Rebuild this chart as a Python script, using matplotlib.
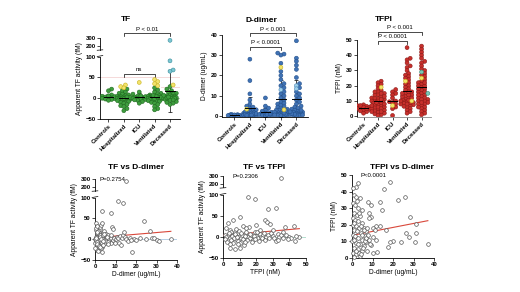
import numpy as np
import matplotlib
matplotlib.use("Agg")
import matplotlib.pyplot as plt
from matplotlib.transforms import blended_transform_factory

plt.rcParams["font.family"] = ["Liberation Sans", "DejaVu Sans"]
plt.rcParams["font.weight"] = "bold"
plt.rcParams["axes.linewidth"] = 0.6

GROUPS = ["Controls", "Hospitalized", "ICU", "Ventilated", "Deceased"]

# ---- top row: values per group (main points + highlighted subgroups) ----
TF_MAIN = {
    "Controls": [22, 18, 8, 5, 3, 2, 1, 0, 0, -1, -2, -3, -5, 4, 6],
    "Hospitalized": [22, 18, 15, 12, 10, 8, 6, 5, 4, 3, 2, 1, 0, 0, -1, -2, -3, -4, -5,
                     -6, -8, -10, -12, -15, -18, -20, -25, -30, 0, 1, -1, 2, 3],
    "ICU": [15, 10, 5, 3, 2, 1, 0, 0, -1, -2, -3, -5, -8, -12, 4, 6, -4],
    "Ventilated": [25, 20, 15, 12, 10, 8, 6, 5, 4, 3, 2, 1, 0, 0, 0, -1, -2, -3, -4, -5,
                   -6, -8, -10, -12, -15, -20, -25, -28, 1, 2, -1, 3, 5, 7],
    "Deceased": [28, 22, 18, 15, 12, 10, 8, 6, 5, 4, 3, 2, 1, 0, 0, -1, -2, -3, -5, -8,
                 -10, -12, -15, 2, 1, 3, 0, -4, 7],
}
TF_YELLOW = {"Controls": [], "Hospitalized": [32, 28, 25], "ICU": [38],
             "Ventilated": [45, 40, 35, 30], "Deceased": [32]}
TF_TEAL = {"Controls": [], "Hospitalized": [], "ICU": [], "Ventilated": [],
           "Deceased": [270, 90, 68, 65]}

DD_MAIN = {
    "Controls": [0.2, 0.3, 0.5, 0.4, 0.6, 0.8, 1.0, 0.3, 0.5, 0.2, 0.7, 0.4],
    "Hospitalized": [28, 17.5, 11, 8, 6, 5, 4, 3, 2.5, 2, 1.8, 1.5, 1.2, 1, 0.8, 0.6, 0.5,
                     0.4, 0.3, 2.2, 1.6, 0.9, 0.7, 3.2, 4.5, 1.1, 1.3, 0.5, 0.6],
    "ICU": [9, 5, 4, 3, 2.5, 2, 1.8, 1.5, 1.2, 1, 0.8, 0.6, 0.5, 0.4, 0.3, 1.1, 0.9],
    "Ventilated": [31, 30.5, 30, 26, 22, 20, 18, 16, 15, 14, 12, 11, 10, 9, 8, 7, 6, 5, 4.5,
                   4, 3.5, 3, 2.5, 2, 1.8, 1.5, 1.2, 1, 0.8, 0.6, 0.5, 0.4, 0.3, 3, 2, 1,
                   0.7, 5.5, 6.5, 2.8, 1.6],
    "Deceased": [37, 28.5, 27, 25, 23, 19, 16, 14, 12, 11, 10, 9, 8, 7, 6, 5, 4.5, 4, 3.5,
                 3, 2.5, 2, 1.8, 1.5, 1.2, 1, 0.8, 0.6, 0.5, 0.4, 3, 2, 1, 1.3, 0.7, 2.2],
}
DD_YELLOW = {"Controls": [], "Hospitalized": [3.5], "ICU": [],
             "Ventilated": [24, 3.2], "Deceased": []}
DD_LIGHT = {"Controls": [], "Hospitalized": [], "ICU": [],
            "Ventilated": [13], "Deceased": [15, 13.5]}

TFPI_MAIN = {
    "Controls": [7.5, 7, 6.5, 6, 5.5, 5, 4.5, 4, 3.5, 3, 6, 5, 2, 7],
    "Hospitalized": [23, 22, 21, 20, 18, 17, 16, 15, 14, 13, 12, 11.5, 11, 10.5, 10, 9.5, 9,
                     8.5, 8, 7.5, 7, 6.5, 6, 5.5, 5, 4.5, 4, 3.5, 3, 2.5, 2, 1.5, 1, 0.5,
                     12, 10, 8, 6, 13, 14, 11, 9, 7, 5, 3, 15, 16],
    "ICU": [17.5, 16, 15, 14, 12, 10, 9.5, 9, 8, 6, 5, 0.5],
    "Ventilated": [45, 38, 37, 35, 33, 32, 30, 28, 27, 26, 25, 24, 22, 21, 20, 19, 18, 17,
                   16, 15, 14, 13, 12, 11, 10, 9.5, 9, 8.5, 8, 7.5, 7, 6, 5, 4, 3, 2, 11,
                   12, 10, 9, 13, 14, 15, 16, 10.5, 8, 6.5],
    "Deceased": [46, 44, 42, 40, 38, 36, 35, 33, 31, 30, 28, 27, 26, 24, 23, 22, 21, 20,
                 19, 18, 17, 16, 15, 14, 13, 12, 11, 10, 9, 8, 7, 6, 5, 4, 3, 2, 1, 12,
                 14, 10, 8, 6, 16, 18, 20, 22, 11, 9],
}
TFPI_YELLOW = {"Controls": [], "Hospitalized": [19], "ICU": [7],
               "Ventilated": [23, 10], "Deceased": [25]}
TFPI_TEAL = {"Controls": [], "Hospitalized": [], "ICU": [], "Ventilated": [],
             "Deceased": [29, 15]}

# ---- bottom row: paired values ----
SC1_DDIMER = [0.3, 0.5, 0.8, 1.0, 1.2, 0.4, 0.6, 0.2, 0.9, 1.5,
              1.1, 0.7, 1.4, 1.8, 2.0, 2.3, 2.6, 3.0, 3.5, 2.1,
              2.4, 1.7, 2.8, 3.2, 3.6, 4.0, 4.3, 4.6, 5.0, 5.4,
              3.8, 4.2, 1.3, 1.6, 0.5, 2.5, 3.3, 2.9, 4.8, 5.2,
              5.6, 6.0, 6.3, 6.7, 7.0, 7.3, 7.6, 8.0, 8.4, 8.8,
              9.0, 9.5, 10.0, 10.5, 11.0, 11.5, 12.0, 12.5, 13.0, 13.5,
              14.0, 14.5, 15.0, 16.0, 17.0, 18.0, 19.0, 20.0, 22.0, 24.0,
              25.0, 27.0, 28.0, 29.0, 30.0, 31.0, 37.0, 15.0, 11.0, 13.5,
              3.4, 8.0, 0.1, 0.3, 0.6, 0.8, 1.0, 1.2, 1.5, 1.9,
              2.2, 2.7, 3.1, 3.4, 3.7, 4.1, 4.5, 0.4, 1.1, 5.8,
              6.5, 7.8, 0.2, 1.4, 0.9, 2.4, 3.9, 6.2, 9.8, 17.5]
SC1_TF = [40, 22, 15, 10, 5, 0, -5, -10, -15, -20,
          -25, 2, 8, 12, 18, 25, 30, 35, 38, 0,
          -3, -8, -12, -18, -30, 5, 2, -2, 0, 8,
          15, 20, 3, -1, 6, 10, 4, -6, -10, 12,
          -4, 3, 10, -2, 0, 5, -8, 2, 30, 25,
          -3, 4, 0, 6, 2, -10, 8, -15, 3, 10,
          18, 5, 0, -5, 2, -30, 0, -2, 4, 45,
          1, 20, 2, 3, -2, -5, 0, 275, 92, 88,
          68, 62, 1, -2, 4, -6, -12, 14, 20, -16,
          6, -22, 1, -9, 9, -4, 13, 28, 33, 6,
          -6, 11, -20, -28, 18, -18, -14, -12, -8, -2]

SC2_TFPI = [35, 15, 19, 27, 32, 10, 6, 3, 25, 26.5,
            28.5, 42.5, 43.5, 45.5, 37.5, 4, 7, 10, 2, 4,
            5, 6, 7, 8, 9, 3, 4, 5, 6, 7,
            8, 9, 10, 11, 12, 13, 14, 15, 16, 17,
            18, 19, 20, 21, 22, 23, 24, 25, 26, 27,
            28, 29, 30, 31, 32, 33, 34, 35, 36, 38,
            40, 41, 44, 1, 2, 1.5, 2.5, 3.5, 4.5, 5.5,
            6.5, 7.5, 8.5, 9.5, 10.5, 11.5, 12.5, 13.5, 14.5, 15.5,
            16.5, 17.5, 18.5, 19.5, 20.5, 21.5, 22.5, 23.5, 24.5, 25.5,
            12, 14, 11, 9, 13, 30, 33, 36, 39, 20]
SC2_TF = [270, 95, 90, 65, 69, 46, 39, 33, 39, 36,
          30, 26, -10, 0, 24, -27, -30, -28, 20, 15,
          10, 5, 0, -5, -10, 3, -3, -8, -15, 12,
          18, 8, 2, -2, -6, 6, 12, 0, -4, 4,
          -8, 10, 2, -3, 7, -1, 3, -6, 0, 5,
          -2, 8, 1, -4, -10, 6, 0, 3, -2, 5,
          0, -3, 2, 5, 0, -5, -12, 8, -18, 2,
          -4, 6, -1, 14, -14, 4, -20, 1, -9, 22,
          7, -12, 1, -6, 12, -11, 16, -4, 9, -8,
          25, 20, 9, -17, -13, 15, -8, 10, -5, 28]

SC3_DDIMER = [18.4, 15.4, 22.4, 26, 13.8, 14.8, 28.1, 31, 31, 26.5,
              28, 30.6, 24, 37, 20, 18.4, 17.5, 10.2, 12.4, 11.9,
              10.2, 13.5, 16.7, 7.8, 9.1, 8.3, 9.4, 8.5, 11, 10.2,
              11.9, 7, 9.1, 3, 2, 1, 2, 4, 0.5, 1.5,
              3, 5, 1, 2.5, 4, 0.5, 1.5, 3, 5, 0.3,
              2, 3.5, 6, 1, 2.5, 4.5, 0.5, 1.5, 3, 5,
              0.2, 2, 4, 6, 1, 3, 5, 0.5, 2, 4,
              1, 6.5, 7, 5.5, 7.5, 3.5, 0.8, 2.8, 4.8, 6.2,
              1.2, 3.2, 0.4, 2.2, 4.2, 5.8, 6.8, 7.2, 8, 8.5,
              9, 1.8, 4.5]
SC3_TFPI = [45.6, 41.3, 34.9, 36.9, 33.5, 28.8, 24.8, 20.4, 15.1, 15.1,
            12.7, 9.7, 9.7, 8, 10.3, 9.7, 6.2, 2.6, 3.6, 19.1,
            17.7, 19.1, 16.7, 33.9, 31.9, 26.8, 24.8, 23.8, 17, 12.7,
            10.7, 9.7, 7.7, 45, 43, 38, 37, 36, 33, 32,
            30, 29, 27, 26, 25, 24, 23, 22, 21, 20,
            19, 18, 18, 17, 16, 15, 14, 13, 12, 11,
            10, 9, 8, 7, 6, 5, 4, 3, 2, 1,
            0.5, 13, 16, 6, 4, 3, 11, 8.5, 14, 10,
            21, 27, 42, 34, 19, 16.5, 12, 18, 14, 11,
            8, 4, 2.5]

# regression lines: (intercept, slope, x_start, x_end)
FIT_TF_DD = (3.5, 0.42, 0, 37)
FIT_TF_TFPI = (3.0, 0.35, 0, 46)
FIT_TFPI_DD = (13.5, 0.24, 0, 37)

FS_TICK = 4.3
FS_LAB = 4.8
FS_TITLE = 6


def brk_fwd(y):
    y = np.asarray(y, float)
    return np.where(y <= 100, y,
                    np.where(y <= 135, 100 + (y - 100) * 0.41, 114.35 + (y - 135) * 0.186))


def brk_inv(v):
    v = np.asarray(v, float)
    return np.where(v <= 100, v,
                    np.where(v <= 114.35, 100 + (v - 100) / 0.41, 135 + (v - 114.35) / 0.186))


def style(ax):
    for s in ["top", "right"]:
        ax.spines[s].set_visible(False)
    ax.tick_params(length=2, width=0.5, pad=1, labelsize=FS_TICK)


def broken_tf_axis(ax):
    ax.set_yscale("function", functions=(brk_fwd, brk_inv))
    ax.set_ylim(-50, 300)
    ax.set_yticks([-50, 0, 50, 100, 200, 300])
    ax.spines["left"].set_visible(False)
    tr = blended_transform_factory(ax.transAxes, ax.transData)
    ax.plot([0, 0], [-50, 100], color="k", lw=0.6, transform=tr, clip_on=False)
    ax.plot([0, 0], [150, 300], color="k", lw=0.6, transform=tr, clip_on=False)
    for yb in (104, 144):
        ax.plot([-0.035, 0.035], [yb - 3, yb + 3], color="k", lw=0.5,
                transform=tr, clip_on=False)


def swarm_x(ax, xc, vals, diam_px, max_px):
    vals = np.asarray(vals, float)
    pts = ax.transData.transform(np.column_stack([np.full(len(vals), xc), vals]))
    ys = pts[:, 1]
    order = np.argsort(ys)
    placed = []
    offs = np.zeros(len(vals))
    step = diam_px * 0.4
    cands = [0.0]
    k = 1
    while k * step <= max_px:
        cands += [k * step, -k * step]
        k += 1
    need = (diam_px * 0.75) ** 2
    for i in order:
        y = ys[i]
        best, best_d = 0.0, -1.0
        for c in cands:
            d = min([(c - px) ** 2 + (y - py) ** 2 for px, py in placed] or [1e9])
            if d >= need:
                best = c
                break
            if d > best_d:
                best, best_d = c, d
        placed.append((best, y))
        offs[i] = best
    x0 = ax.transData.transform((xc, 0))[0]
    x1 = ax.transData.transform((xc + 1, 0))[0]
    return xc + offs / (x1 - x0)


def group_panel(ax, main, extra, color, edge):
    s = 8
    diam = np.sqrt(s) * 100 / 72
    x0 = ax.transData.transform((0, 0))[0]
    x1 = ax.transData.transform((1, 0))[0]
    max_px = 0.44 * (x1 - x0)
    for i, g in enumerate(GROUPS):
        vals = list(main[g])
        cols = [(color, edge)] * len(vals)
        for (d, fc, ec) in extra:
            vals += d[g]
            cols += [(fc, ec)] * len(d[g])
        xs = swarm_x(ax, i, vals, diam, max_px)
        fcs = [c[0] for c in cols]
        ecs = [c[1] for c in cols]
        m = np.mean(vals)
        sd = np.std(vals, ddof=1)
        ax.errorbar(i, m, yerr=sd, color="k", lw=0.5, capsize=1.3, capthick=0.5, zorder=2)
        ax.scatter(xs, vals, s=s, c=fcs, edgecolors=ecs, linewidths=0.4, zorder=3)
        ax.plot([i - 0.3, i + 0.3], [m, m], color="k", lw=0.7, zorder=4)
    ax.set_xticks(range(len(GROUPS)))
    ax.set_xticklabels(GROUPS, rotation=45, ha="right", rotation_mode="anchor",
                       fontsize=FS_TICK)


def bracket(ax, x0, x1, y, ty, text):
    tr = blended_transform_factory(ax.transData, ax.transAxes)
    ax.plot([x0, x0, x1, x1], [y - 0.035, y, y, y - 0.035], color="k", lw=0.5,
            transform=tr, clip_on=False)
    ax.text((x0 + x1) / 2, ty, text, transform=tr, ha="center", va="center",
            fontsize=FS_TICK, fontweight="normal")


def scatter_panel(ax, xs, ys, fit, color_zero=None):
    if color_zero:
        ax.axhline(0, color=color_zero, lw=0.6, zorder=1)
    b0, b1, xa, xb = fit
    xl = np.array([xa, xb])
    ax.plot(xl, b0 + b1 * xl, color="#d9483b", lw=0.8, zorder=2)
    ax.scatter(xs, ys, s=7, facecolors="white", edgecolors="#555555", linewidths=0.5,
               zorder=3, clip_on=False)


W, H = 520, 292
fig = plt.figure(figsize=(W / 100, H / 100), dpi=100)


def add_axes(x0, y0, x1, y1):
    return fig.add_axes([x0 / W, 1 - y1 / H, (x1 - x0) / W, (y1 - y0) / H])


# ---------- top row ----------
ax = add_axes(100, 38, 180, 119)
style(ax)
ax.set_xlim(-0.55, 4.65)
broken_tf_axis(ax)
ax.axhline(0, color="#aaaaaa", lw=0.5, zorder=1)
ax.axhline(50, color="#f1caca", lw=0.5, zorder=1)
ax.plot([3.4, 4.65], [26, 26], color="#f1caca", lw=0.5, zorder=1)
group_panel(ax, TF_MAIN, [(TF_YELLOW, "#f2e36b", "#c9b21d"), (TF_TEAL, "#7cc7d3", "#3a8e9c")],
            "#3e9e3e", "#1f6a1f")
ax.set_ylabel("Apparent TF activity (fM)", fontsize=FS_LAB, labelpad=2)
ax.text(0.33, 1.21, "TF", transform=ax.transAxes, ha="center", fontsize=FS_TITLE,
        fontweight="bold")
bracket(ax, 1, 4, 1.058, 1.11, "P < 0.01")
bracket(ax, 1, 3, 0.559, 0.605, "ns")

ax = add_axes(222, 34.7, 308, 117.3)
style(ax)
ax.set_xlim(-0.8, 4.75)
ax.set_ylim(-0.5, 40)
ax.set_yticks([0, 10, 20, 30, 40])
group_panel(ax, DD_MAIN, [(DD_YELLOW, "#f2e36b", "#c9b21d"), (DD_LIGHT, "#9fd0ea", "#4a86b8")],
            "#3f72b5", "#24508a")
ax.set_ylabel("D-dimer (ug/mL)", fontsize=FS_LAB, labelpad=2)
ax.text(0.46, 1.154, "D-dimer", transform=ax.transAxes, ha="center", fontsize=FS_TITLE,
        fontweight="bold")
bracket(ax, 1, 4, 1.024, 1.069, "P < 0.001")
bracket(ax, 1, 3, 0.855, 0.908, "P < 0.0001")

ax = add_axes(357, 40, 431, 117)
style(ax)
ax.set_xlim(-0.45, 4.65)
ax.set_ylim(-0.5, 50)
ax.set_yticks([0, 10, 20, 30, 40, 50])
ax.spines["bottom"].set_color("#888888")
group_panel(ax, TFPI_MAIN, [(TFPI_YELLOW, "#f2e36b", "#c9b21d"), (TFPI_TEAL, "#7cc7b5", "#3a8e7c")],
            "#c8302c", "#8b1a17")
ax.set_ylabel("TFPI (nM)", fontsize=FS_LAB, labelpad=2)
ax.text(0.36, 1.247, "TFPI", transform=ax.transAxes, ha="center", fontsize=FS_TITLE,
        fontweight="bold")
bracket(ax, 1, 4, 1.10, 1.165, "P < 0.001")
bracket(ax, 1, 3, 0.987, 1.043, "P < 0.0001")

# ---------- bottom row ----------
ax = add_axes(95, 179, 177, 260)
style(ax)
ax.set_xlim(0, 40)
broken_tf_axis(ax)
ax.set_xticks([0, 10, 20, 30, 40])
scatter_panel(ax, SC1_DDIMER, SC1_TF, FIT_TF_DD, color_zero="#a9c8e0")
ax.set_xlabel("D-dimer (ug/mL)", fontsize=FS_LAB, labelpad=1.5)
ax.set_ylabel("Apparent TF activity (fM)", fontsize=FS_LAB, labelpad=2)
ax.text(0.5, 1.123, "TF vs D-dimer", transform=ax.transAxes, ha="center",
        fontsize=FS_TITLE, fontweight="bold")
ax.text(0.05, 0.99, "P=0.2754", transform=ax.transAxes, va="center",
        fontsize=FS_TICK, fontweight="normal")

ax = add_axes(223, 175.7, 306, 257.7)
style(ax)
ax.set_xlim(0, 50)
broken_tf_axis(ax)
ax.set_xticks([0, 10, 20, 30, 40, 50])
scatter_panel(ax, SC2_TFPI, SC2_TF, FIT_TF_TFPI, color_zero="#a8d8c8")
ax.set_xlabel("TFPI (nM)", fontsize=FS_LAB, labelpad=1.5)
ax.set_ylabel("Apparent TF activity (fM)", fontsize=FS_LAB, labelpad=2)
ax.text(0.5, 1.082, "TF vs TFPI", transform=ax.transAxes, ha="center",
        fontsize=FS_TITLE, fontweight="bold")
ax.text(0.11, 0.99, "P=0.2306", transform=ax.transAxes, va="center",
        fontsize=FS_TICK, fontweight="normal")

ax = add_axes(352, 175, 434, 257.7)
style(ax)
ax.set_xlim(0, 40)
ax.set_ylim(0, 50)
ax.set_xticks([0, 10, 20, 30, 40])
ax.set_yticks([0, 10, 20, 30, 40, 50])
scatter_panel(ax, SC3_DDIMER, SC3_TFPI, FIT_TFPI_DD)
ax.set_xlabel("D-dimer (ug/mL)", fontsize=FS_LAB, labelpad=1.5)
ax.set_ylabel("TFPI (nM)", fontsize=FS_LAB, labelpad=2)
ax.text(0.61, 1.073, "TFPI vs D-dimer", transform=ax.transAxes, ha="center",
        fontsize=FS_TITLE, fontweight="bold")
ax.text(0.1, 0.99, "P<0.0001", transform=ax.transAxes, va="center",
        fontsize=FS_TICK, fontweight="normal")

fig.savefig("out.png", dpi=100)
